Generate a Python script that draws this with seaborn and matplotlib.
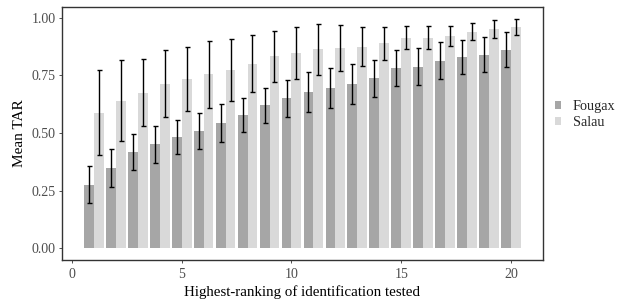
import numpy as np
import pandas as pd
import matplotlib
matplotlib.use("Agg")
import matplotlib.pyplot as plt
import seaborn as sns

ranks = list(range(1, 21))
fougax_mean = [0.275, 0.348, 0.418, 0.452, 0.483, 0.509, 0.543, 0.578, 0.621, 0.652,
               0.677, 0.695, 0.712, 0.738, 0.781, 0.786, 0.812, 0.829, 0.838, 0.859]
fougax_low = [0.196, 0.265, 0.340, 0.370, 0.408, 0.429, 0.460, 0.503, 0.545, 0.569,
              0.590, 0.608, 0.626, 0.655, 0.703, 0.706, 0.732, 0.754, 0.764, 0.784]
fougax_high = [0.358, 0.432, 0.494, 0.532, 0.556, 0.587, 0.624, 0.650, 0.696, 0.731,
               0.763, 0.780, 0.797, 0.817, 0.859, 0.867, 0.893, 0.901, 0.914, 0.936]
salau_mean = [0.587, 0.639, 0.673, 0.712, 0.734, 0.755, 0.773, 0.799, 0.833, 0.846,
              0.864, 0.868, 0.872, 0.890, 0.911, 0.911, 0.920, 0.937, 0.950, 0.959]
salau_low = [0.403, 0.467, 0.529, 0.568, 0.597, 0.608, 0.639, 0.677, 0.721, 0.735,
             0.752, 0.767, 0.789, 0.815, 0.864, 0.864, 0.877, 0.901, 0.911, 0.923]
salau_high = [0.771, 0.815, 0.819, 0.859, 0.871, 0.900, 0.906, 0.923, 0.940, 0.958,
              0.972, 0.968, 0.958, 0.958, 0.962, 0.962, 0.962, 0.976, 0.988, 0.996]
sites = ["Fougax", "Salau"]
colors = {"Fougax": "#a6a6a6", "Salau": "#d9d9d9"}

sns.set_theme(style="white")
plt.rcParams["font.family"] = ["Liberation Serif", "DejaVu Serif"]

df = pd.DataFrame({
    "rank": ranks * 2,
    "site": ["Fougax"] * 20 + ["Salau"] * 20,
    "tar": fougax_mean + salau_mean,
})

fig = plt.figure(figsize=(6.24, 3.05), dpi=100)
ax = fig.add_axes([0.0994, 0.1475, 0.7706, 0.8295])

sns.barplot(data=df, x="rank", y="tar", hue="site", hue_order=sites,
            palette=colors, native_scale=True, width=0.9, gap=0,
            errorbar=None, linewidth=0, saturation=1, ax=ax, legend=True)

r = np.array(ranks, dtype=float)
for site, off, m, lo, hi in [("Fougax", -0.225, fougax_mean, fougax_low, fougax_high),
                             ("Salau", 0.225, salau_mean, salau_low, salau_high)]:
    m = np.array(m); lo = np.array(lo); hi = np.array(hi)
    ax.errorbar(r + off, m, yerr=[m - lo, hi - m], fmt="none", ecolor="black",
                elinewidth=1.0, capsize=1.8, capthick=1.0, zorder=5)

ax.set_xlim(-0.445, 21.445)
ax.set_ylim(-0.05, 1.046)
ax.set_xticks([0, 5, 10, 15, 20])
ax.set_xticklabels(["0", "5", "10", "15", "20"])
ax.set_yticks([0, 0.25, 0.5, 0.75, 1.0])
ax.set_yticklabels(["0.00", "0.25", "0.50", "0.75", "1.00"])
ax.tick_params(axis="both", which="both", length=2.2, width=0.6, color="#333333",
               labelsize=10, labelcolor="#4d4d4d", pad=2.5, bottom=True, left=True)
ax.tick_params(axis="x", pad=3.5)
for s in ax.spines.values():
    s.set_visible(True)
    s.set_color("#333333")
    s.set_linewidth(1.0)

ax.set_xlabel("Highest-ranking of identification tested", fontsize=10.8, color="black", labelpad=3)
ax.set_ylabel("Mean TAR", fontsize=11, color="black", labelpad=4)

handles, labels = ax.get_legend_handles_labels()
ax.legend(handles=handles, labels=labels, loc="center left", bbox_to_anchor=(1.007, 0.575),
          frameon=False, fontsize=10.3, handlelength=0.45, handleheight=0.45,
          handletextpad=0.8, labelspacing=0.2, borderaxespad=0.2, title=None)

fig.savefig("out.png", dpi=100)
